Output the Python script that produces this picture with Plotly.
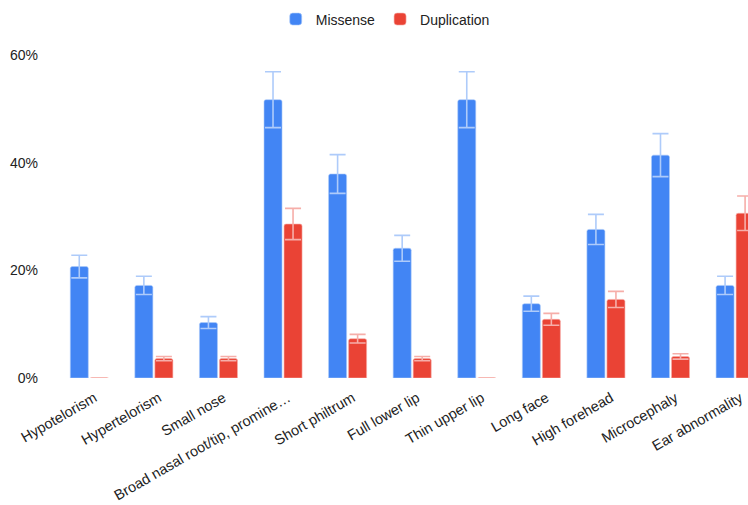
import plotly.graph_objects as go

# Facial features scored in each cohort
features = [
    "Hypotelorism", "Hypertelorism", "Small nose",
    "Broad nasal root/tip, promine…", "Short philtrum", "Full lower lip",
    "Thin upper lip", "Long face", "High forehead", "Microcephaly",
    "Ear abnormality",
]

# Percentage of patients with each feature
missense_pct = [20.7, 17.2, 10.3, 51.7, 37.9, 24.1, 51.7, 13.8, 27.6, 41.4, 17.2]
missense_err = [2.1, 1.7, 1.1, 5.2, 3.6, 2.4, 5.2, 1.4, 2.8, 4.0, 1.7]

duplication_pct = [0.0, 3.6, 3.6, 28.6, 7.3, 3.6, 0.0, 10.9, 14.6, 4.0, 30.6]
duplication_err = [0.0, 0.4, 0.4, 2.9, 0.8, 0.4, 0.0, 1.1, 1.5, 0.5, 3.2]

y_ticks = [0, 20, 40, 60]
y_tick_text = ["0%", "20%", "40%", "60%"]

FONT = "Arial, Liberation Sans, sans-serif"
BLUE, BLUE_ERR = "#4285F4", "#AECBFA"
RED, RED_ERR = "#EA4335", "#F6AEA9"

fig = go.Figure()
fig.add_trace(go.Bar(
    name="Missense", x=features, y=missense_pct,
    marker=dict(color=BLUE, line=dict(color="rgba(174,203,250,0.6)", width=1), cornerradius=2),
    error_y=dict(type="data", array=missense_err, visible=True,
                 color=BLUE_ERR, thickness=1.6, width=8),
))
fig.add_trace(go.Bar(
    name="Duplication", x=features, y=duplication_pct,
    marker=dict(color=RED, line=dict(color="rgba(246,174,169,0.6)", width=1), cornerradius=2),
    error_y=dict(type="data", array=duplication_err, visible=True,
                 color=RED_ERR, thickness=1.6, width=8),
))

fig.update_layout(
    width=748, height=505,
    margin=dict(l=57, r=0, t=55, b=127),
    paper_bgcolor="white", plot_bgcolor="white",
    font=dict(family=FONT, size=14, color="#222222"),
    barmode="group", bargap=0.38, bargroupgap=0.1,
    showlegend=True,
    legend=dict(orientation="h", x=0.475, xanchor="center", y=1.11, yanchor="middle",
                font=dict(size=14, color="#222222"), bgcolor="rgba(0,0,0,0)"),
    xaxis=dict(range=[-0.5, 10.2], tickangle=-30, showgrid=False, showline=False,
               zeroline=False, ticks="", ticklabelstandoff=8, ticklabelshift=5,
               tickfont=dict(size=14.5, color="#222222")),
    yaxis=dict(range=[0, 60], tickvals=y_ticks, ticktext=y_tick_text, showgrid=False,
               zeroline=False, showline=False, ticks="", ticklabelstandoff=18,
               tickfont=dict(size=14, color="#222222")),
)

fig.write_html("out.html")
